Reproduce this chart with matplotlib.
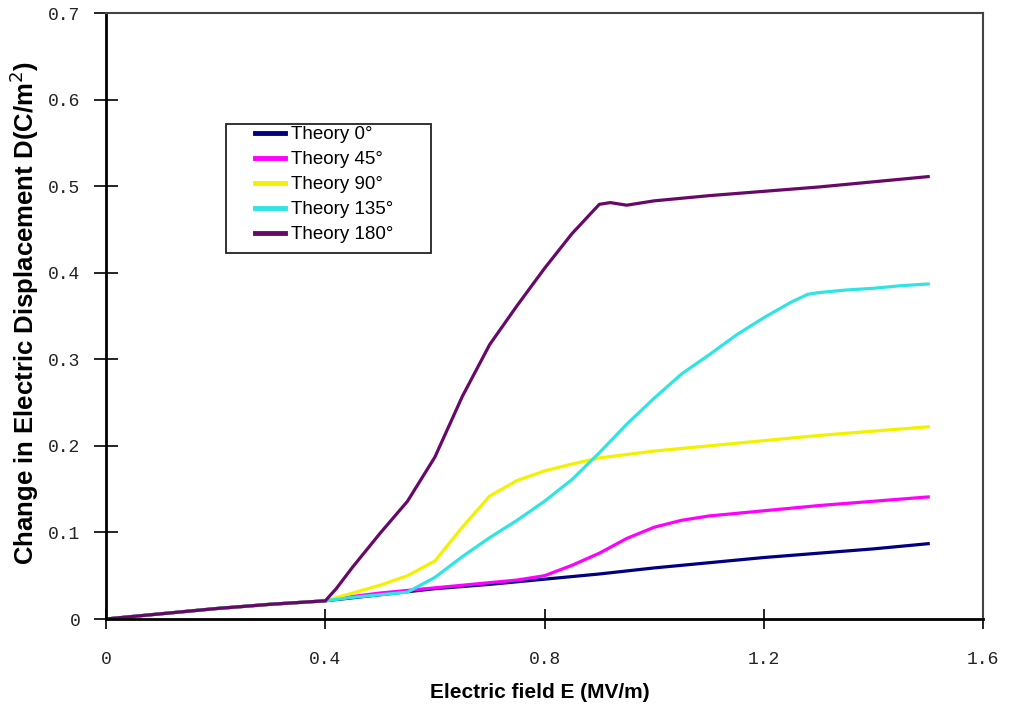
import matplotlib
matplotlib.use("Agg")
import matplotlib.pyplot as plt
from matplotlib.patches import Rectangle

# shared low-field segment (all orientations)
x_low = [0.0, 0.1, 0.2, 0.3, 0.4]
d_low = [0.0, 0.006, 0.012, 0.017, 0.021]

x_0 = [0.5, 0.6, 0.7, 0.8, 0.9, 1.0, 1.1, 1.2, 1.3, 1.4, 1.5]
d_0 = [0.028, 0.035, 0.040, 0.046, 0.052, 0.059, 0.065, 0.071, 0.076, 0.081, 0.087]

x_45 = [0.45, 0.5, 0.55, 0.6, 0.65, 0.7, 0.75, 0.8, 0.85, 0.9, 0.95, 1.0, 1.05, 1.1, 1.2, 1.3, 1.4, 1.5]
d_45 = [0.026, 0.030, 0.033, 0.036, 0.039, 0.042, 0.045, 0.050, 0.062, 0.076, 0.093, 0.106, 0.114,
        0.119, 0.125, 0.131, 0.136, 0.141]

x_90 = [0.45, 0.5, 0.55, 0.6, 0.65, 0.7, 0.75, 0.8, 0.85, 0.9, 0.95, 1.0, 1.1, 1.2, 1.3, 1.4, 1.5]
d_90 = [0.030, 0.039, 0.050, 0.067, 0.106, 0.142, 0.160, 0.171, 0.179, 0.186, 0.190, 0.194,
        0.200, 0.206, 0.212, 0.217, 0.222]

x_135 = [0.45, 0.5, 0.55, 0.6, 0.65, 0.7, 0.75, 0.8, 0.85, 0.9, 0.95, 1.0, 1.05, 1.1, 1.15, 1.2,
         1.25, 1.28, 1.3, 1.35, 1.4, 1.45, 1.5]
d_135 = [0.025, 0.028, 0.031, 0.048, 0.072, 0.094, 0.114, 0.136, 0.161, 0.192, 0.225, 0.255, 0.283,
         0.305, 0.328, 0.348, 0.366, 0.375, 0.377, 0.380, 0.382, 0.385, 0.387]

x_180 = [0.42, 0.45, 0.5, 0.55, 0.6, 0.65, 0.7, 0.75, 0.8, 0.85, 0.9, 0.92, 0.95, 1.0, 1.1, 1.2,
         1.3, 1.4, 1.5]
d_180 = [0.035, 0.060, 0.099, 0.136, 0.187, 0.257, 0.317, 0.362, 0.405, 0.445, 0.479, 0.481, 0.478,
         0.483, 0.489, 0.494, 0.499, 0.505, 0.511]

labels = ["Theory 0°", "Theory 45°", "Theory 90°", "Theory 135°", "Theory 180°"]
colors = ["#000080", "#FF00FF", "#F2F200", "#30E4E4", "#680868"]
series = [(x_0, d_0), (x_45, d_45), (x_90, d_90), (x_135, d_135), (x_180, d_180)]

x_ticks = [0, 0.4, 0.8, 1.2, 1.6]
x_ticklabels = ["0", "0.4", "0.8", "1.2", "1.6"]
y_ticks = [0, 0.1, 0.2, 0.3, 0.4, 0.5, 0.6, 0.7]
y_ticklabels = ["0", "0.1", "0.2", "0.3", "0.4", "0.5", "0.6", "0.7"]

fig = plt.figure(figsize=(10.1, 7.1), dpi=100)
ax = fig.add_axes([106 / 1010, 91 / 710, 877 / 1010, 606 / 710])

for (xs, ds), c, lab in zip(series, colors, labels):
    ax.plot(x_low + xs, d_low + ds, color=c, lw=2.3, label=lab, solid_joinstyle="round")

ax.set_xlim(0, 1.6)
ax.set_ylim(0, 0.7)
ax.set_xticks(x_ticks)
ax.set_xticklabels(x_ticklabels, family="Liberation Mono", fontsize=13, color="#222222")
ax.set_yticks(y_ticks)
ax.set_yticklabels(y_ticklabels, family="Liberation Mono", fontsize=13, color="#222222")
ax.tick_params(axis="x", direction="inout", length=14, width=1.2, pad=16)
ax.tick_params(axis="y", direction="inout", length=17, width=1.2, pad=10)

for side in ["left", "bottom"]:
    ax.spines[side].set_linewidth(2)
    ax.spines[side].set_color("black")
for side in ["top", "right"]:
    ax.spines[side].set_linewidth(1.5)
    ax.spines[side].set_color("#444444")

ax.set_xlabel("Electric field E (MV/m)", family="Liberation Sans", fontweight="bold",
              fontsize=15)
ax.xaxis.set_label_coords(0.495, -0.105)
ax.set_ylabel("Change in Electric Displacement D(C/m$^2$)", family="Liberation Sans",
              fontweight="bold", fontsize=18.5)
ax.yaxis.set_label_coords(-0.074, 0.505)

leg = ax.legend(loc="upper left", bbox_to_anchor=(255 / 1010, 1 - 126 / 710),
                bbox_transform=fig.transFigure, frameon=False, borderpad=0, borderaxespad=0,
                handlelength=1.6, handletextpad=0.3, labelspacing=0.42,
                prop={"family": "Liberation Sans", "size": 13.5})
for h in leg.get_lines():
    h.set_linewidth(3.5)

fig.patches.append(Rectangle((226 / 1010, 1 - 253 / 710), 205 / 1010, 129 / 710,
                             transform=fig.transFigure, fill=False, edgecolor="#222222",
                             lw=1.3, zorder=5))

fig.savefig("out.png", dpi=100)
